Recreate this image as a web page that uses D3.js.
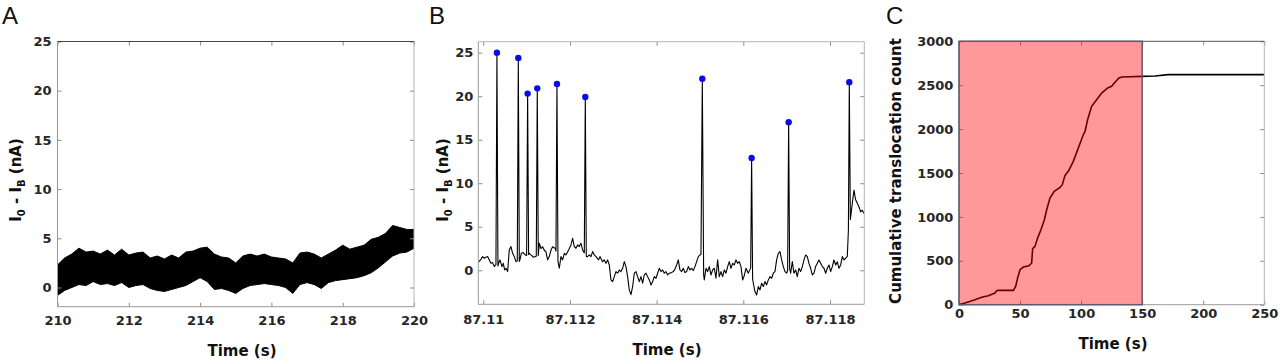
<!DOCTYPE html>
<html><head><meta charset="utf-8">
<script src="https://cdn.jsdelivr.net/npm/d3@7"></script>
<style>
html,body{margin:0;padding:0;background:#fff;}
svg{display:block;}
</style></head>
<body>
<svg id="chart" width="1280" height="364"></svg>
<script>
// ---------- DATA ----------
const panelLetters = ["A", "B", "C"];

// Panel A: noise band envelope (nA) vs time (s)
const timeA = [210.0,210.2,210.4,210.6,210.8,211.0,211.2,211.4,211.6,211.8,212.0,212.2,212.4,212.6,212.8,213.0,213.2,213.4,213.6,213.8,214.0,214.2,214.4,214.6,214.8,215.0,215.2,215.4,215.6,215.8,216.0,216.2,216.4,216.6,216.8,217.0,217.2,217.4,217.6,217.8,218.0,218.2,218.4,218.6,218.8,219.0,219.2,219.4,219.6,219.8,220.0];
const upperA = [2.3,3.0,3.4,4.0,3.6,3.7,3.4,3.8,3.3,3.9,3.3,3.5,3.6,3.0,3.2,2.9,3.3,3.0,3.6,3.7,4.0,4.1,3.4,3.1,3.0,2.5,3.2,3.4,3.2,3.4,3.1,3.0,2.9,2.5,3.5,3.6,3.4,3.0,3.4,3.8,4.3,3.9,4.1,4.3,4.9,5.1,5.5,6.3,6.1,5.9,5.9];
const lowerA = [-0.8,-0.3,0.0,0.3,0.2,0.6,0.3,0.4,0.2,0.5,0.0,0.2,0.3,-0.1,-0.3,-0.4,-0.2,0.0,0.2,0.6,1.0,0.6,-0.2,-0.1,-0.3,-0.6,-0.1,0.2,0.3,0.4,0.3,0.2,0.0,-0.6,0.3,0.5,0.3,-0.1,0.5,0.7,0.8,0.9,1.0,1.2,1.5,2.0,2.6,3.2,3.5,3.6,4.0];

// Panel B: trace, time offset from 87.11 s in microseconds, current in nA
const baseTimeB = 87.11;
const offsetB_us = [-115,-54,-15,23,62,100,138,177,215,254,277,292,315,338,354,385,431,462,492,523,562,600,638,677,715,754,785,808,831,846,877,923,969,1000,1023,1046,1062,1100,1160,1223,1246,1269,1292,1331,1369,1408,1446,1485,1523,1562,1600,1662,1677,1700,1723,1754,1792,1831,1869,1908,1969,2023,2062,2100,2138,2177,2215,2254,2292,2331,2354,2377,2408,2446,2485,2523,2562,2600,2662,2692,2754,2792,2831,2869,2908,2946,2985,3023,3062,3100,3139,3177,3215,3254,3292,3331,3369,3408,3446,3485,3523,3562,3600,3639,3677,3715,3754,3792,3831,3869,3908,3946,3985,4023,4062,4100,4138,4177,4215,4254,4292,4331,4385,4420,4462,4500,4538,4577,4615,4654,4692,4731,4769,4808,4846,4885,4923,4962,5000,5023,5054,5085,5100,5139,5177,5215,5254,5292,5331,5369,5408,5446,5485,5523,5562,5600,5639,5677,5715,5754,5792,5831,5869,5908,5946,5985,6015,6062,6115,6154,6170,6192,6215,6231,6269,6308,6346,6385,6423,6462,6500,6538,6577,6615,6654,6692,6731,6769,6808,6846,6885,6923,6962,7000,7023,7046,7069,7092,7131,7169,7208,7246,7285,7323,7362,7400,7438,7477,7515,7554,7592,7631,7669,7708,7746,7785,7823,7862,7900,7938,7977,8015,8054,8092,8131,8169,8208,8246,8285,8323,8362,8400,8425,8446,8470,8515,8554,8592,8631,8669,8708,8746,8792];
const currentB = [0.9,1.26,1.57,1.38,1.49,1.57,1.19,0.8,0.88,0.42,0.61,0.6,25.0,0.5,0.8,1.19,0.42,0.8,0.04,0.23,-0.15,2.34,2.72,1.95,1.57,0.99,1.1,24.4,1.0,1.19,1.95,2.03,1.76,1.7,20.3,1.8,1.95,1.76,1.5,1.6,20.9,1.7,3.1,2.5,2.7,2.3,2.1,1.2,1.57,2.3,2.7,2.5,2.2,21.4,1.0,0.23,1.57,1.19,1.95,1.76,2.34,2.91,3.67,2.72,2.53,2.91,2.72,3.1,2.34,2.0,19.9,1.6,1.57,1.76,1.57,2.15,1.76,1.57,1.19,1.57,0.99,1.19,0.8,1.19,0.61,-1.11,-1.3,-0.73,-0.15,-0.34,0.04,-0.15,0.23,0.99,0.42,-0.73,-2.26,-2.8,-1.87,-0.34,-0.15,-0.73,-1.3,-0.73,-1.49,-0.54,-0.34,-0.73,-1.11,-1.68,-1.3,-0.73,-0.92,-0.34,0.23,-0.15,0.04,-0.34,-0.15,-0.54,-0.34,-0.3,-0.15,0.1,0.61,1.19,0.04,-0.15,0.23,-0.27,-0.15,0.42,0.04,0.23,-0.04,0.42,0.99,1.57,1.76,1.8,22.0,-0.5,-1.11,0.23,-0.15,0.42,-0.54,0.04,0.23,-0.92,1.19,-0.73,-0.15,-0.73,0.04,-0.34,0.42,0.99,0.23,0.8,0.61,1.19,0.8,0.99,0.42,-1.11,-0.73,0.23,-0.34,0.1,0.3,12.9,-1.0,-1.49,-2.45,-2.83,-1.87,-2.26,-1.49,-1.87,-1.3,-1.68,-1.11,-0.73,-0.92,-0.34,-0.15,1.19,1.95,2.15,1.19,0.42,-0.15,-0.34,0.0,17.0,0.2,-0.34,0.99,-0.34,0.04,-0.73,0.23,-0.15,0.42,1.19,1.76,1.57,0.8,0.23,-0.54,-0.34,0.42,0.8,1.19,0.8,0.42,0.23,-0.34,0.23,0.61,-0.15,0.42,1.19,0.61,0.99,0.23,0.61,1.57,1.19,1.38,1.6,4.6,21.6,5.8,7.7,9.2,8.1,7.7,7.3,6.7,6.9,6.5];
// Detected peaks (blue markers)
const peakB_us = [315,808,1023,1246,1700,2354,5054,6192,7046,8446];
const peakB = [25.0,24.4,20.3,20.9,21.4,19.9,22.0,12.9,17.0,21.6];

// Panel C: cumulative translocation count vs time (s)
const timeC = [0,4.9,13.1,18.6,24,29.5,30.8,32,44.5,46.4,48,50,52.7,57.3,59.5,60.3,62.2,64.4,67.1,69.9,71.8,74.5,78,82.7,84.6,86.8,89.5,93.6,97.7,101.8,103.2,105.3,108.6,112.7,116.8,121.7,125,127.2,131,133.2,149.6,160.5,171.4,250];
const countC = [0,19,57,84,103,133,160,163,163,209,304,399,429,444,475,638,664,759,854,968,1082,1215,1291,1336,1367,1473,1519,1633,1784,1936,1974,2107,2259,2335,2411,2468,2487,2525,2582,2593,2600,2605,2620,2620];
const shadeC = [0, 150];

// Ticks
const ticksAx = [210,212,214,216,218,220];
const ticksAy = [0,5,10,15,20,25];
const ticksBx = [87.11,87.112,87.114,87.116,87.118];
const ticksBy = [0,5,10,15,20,25];
const ticksCx = [0,50,100,150,200,250];
const ticksCy = [0,500,1000,1500,2000,2500,3000];

// Labels
const xTitle = "Time (s)";
const yTitleC = "Cumulative translocation count";

// ---------- DRAW ----------
const svg = d3.select("#chart");
const tickFont = "'DejaVu Sans', sans-serif";
const labFont = "'DejaVu Sans', sans-serif";
const txtColor = "#262626";
const plain = d => String(d);

function panel(cfg) {
  const g = svg.append("g");
  const x = d3.scaleLinear().domain(cfg.xd).range([cfg.l, cfg.r]);
  const y = d3.scaleLinear().domain(cfg.yd).range([cfg.b, cfg.t]);
  const clipId = "clip" + cfg.id;
  svg.append("clipPath").attr("id", clipId).append("rect")
    .attr("x", cfg.l).attr("y", cfg.t).attr("width", cfg.r - cfg.l).attr("height", cfg.b - cfg.t);
  const plot = g.append("g").attr("clip-path", `url(#${clipId})`);

  // axes (inward ticks on all four sides)
  const ax = [
    d3.axisBottom(x).tickValues(cfg.tx).tickSize(-4).tickPadding(cfg.padX).tickFormat(plain),
    d3.axisTop(x).tickValues(cfg.tx).tickSize(-4).tickFormat(""),
    d3.axisLeft(y).tickValues(cfg.ty).tickSize(-4).tickPadding(cfg.padY).tickFormat(plain),
    d3.axisRight(y).tickValues(cfg.ty).tickSize(-4).tickFormat("")
  ];
  const pos = [`translate(0,${cfg.b})`, `translate(0,${cfg.t})`, `translate(${cfg.l},0)`, `translate(${cfg.r},0)`];
  ax.forEach((a, i) => {
    const ag = g.append("g").attr("transform", pos[i]).call(a);
    ag.select(".domain").remove();
    ag.selectAll(".tick line").attr("stroke", "#8a8a8a").attr("stroke-width", 1);
    ag.selectAll(".tick text").attr("fill", txtColor).attr("font-family", tickFont)
      .attr("font-weight", "bold").attr("font-size", 13);
  });
  // box
  g.append("line").attr("x1", cfg.l).attr("x2", cfg.r).attr("y1", cfg.b).attr("y2", cfg.b).attr("stroke", "#9a9a9a");
  g.append("line").attr("x1", cfg.l).attr("x2", cfg.l).attr("y1", cfg.t).attr("y2", cfg.b).attr("stroke", "#9a9a9a");
  g.append("line").attr("x1", cfg.r).attr("x2", cfg.r).attr("y1", cfg.t).attr("y2", cfg.b).attr("stroke", "#b5b5b5");
  g.append("line").attr("x1", cfg.l).attr("x2", cfg.r).attr("y1", cfg.t).attr("y2", cfg.t).attr("stroke", cfg.topColor || "#b5b5b5");

  // x title
  g.append("text").attr("x", cfg.xtX).attr("y", cfg.xtY).attr("text-anchor", "middle")
    .attr("font-family", labFont).attr("font-weight", "bold").attr("font-size", 15).attr("fill", "#111")
    .text(xTitle);
  // panel letter
  g.append("text").attr("x", cfg.letX).attr("y", 24).attr("font-family", "'Liberation Sans', Arial, sans-serif")
    .attr("font-size", 24).attr("fill", "#111").text(cfg.letter);
  return {g, plot, x, y};
}

function currentTitle(g, cx, cy) {
  const t = g.append("text").attr("transform", `translate(${cx},${cy}) rotate(-90)`)
    .attr("text-anchor", "middle").attr("font-family", labFont).attr("font-weight", "bold")
    .attr("font-size", 15).attr("fill", "#111");
  t.append("tspan").text("I");
  t.append("tspan").attr("font-size", 10).attr("dy", 4).text("0");
  t.append("tspan").attr("dy", -4).text(" - I");
  t.append("tspan").attr("font-size", 10).attr("dy", 4).text("B");
  t.append("tspan").attr("dy", -4).text(" (nA)");
}

// Panel A
const A = panel({id: "A", letter: panelLetters[0], letX: 2, xd: [210, 220], yd: [-1.95, 25],
  l: 57.5, r: 414, t: 41.5, b: 306.7, tx: ticksAx, ty: ticksAy, padX: 9.5, padY: 6,
  xtX: 242, xtY: 356, topColor: "#444"});
const areaA = d3.area().x((d, i) => A.x(timeA[i])).y0((d, i) => A.y(lowerA[i])).y1((d, i) => A.y(upperA[i]));
A.plot.append("path").datum(timeA).attr("d", areaA).attr("fill", "#000").attr("stroke", "#000").attr("stroke-width", 1);
currentTitle(A.g, 21, 180);

// Panel B
const timeB = offsetB_us.map(u => baseTimeB + u * 1e-6);
const B = panel({id: "B", letter: panelLetters[1], letX: 429, xd: [baseTimeB - 115e-6, baseTimeB + 8792e-6], yd: [-3.91, 26.26],
  l: 478.3, r: 864.3, t: 41.7, b: 304.3, tx: ticksBx, ty: ticksBy, padX: 10.5, padY: 5,
  xtX: 667, xtY: 355});
const lineB = d3.line().x((d, i) => B.x(timeB[i])).y((d, i) => B.y(currentB[i]));
B.plot.append("path").datum(currentB).attr("d", lineB).attr("fill", "none").attr("stroke", "#000").attr("stroke-width", 1.1).attr("stroke-linejoin", "round");
B.plot.selectAll("circle.pk").data(peakB).join("circle").attr("class", "pk")
  .attr("cx", (d, i) => B.x(baseTimeB + peakB_us[i] * 1e-6)).attr("cy", d => B.y(d)).attr("r", 3.2).attr("fill", "#0a0aee");
currentTitle(B.g, 448, 180);

// Panel C
const C = panel({id: "C", letter: panelLetters[2], letX: 886, xd: [0, 250], yd: [0, 3000],
  l: 959, r: 1264.3, t: 41.3, b: 304.7, tx: ticksCx, ty: ticksCy, padX: 4, padY: 5.7,
  xtX: 1113, xtY: 349, topColor: "#555"});
const lineC = d3.line().x((d, i) => C.x(timeC[i])).y((d, i) => C.y(countC[i]));
C.plot.append("path").datum(countC).attr("d", lineC).attr("fill", "none").attr("stroke", "#000").attr("stroke-width", 1.6);
C.g.append("rect").attr("x", C.x(shadeC[0])).attr("y", C.y(3000)).attr("width", C.x(shadeC[1]) - C.x(shadeC[0]))
  .attr("height", C.y(0) - C.y(3000)).attr("fill", "red").attr("fill-opacity", 0.4)
  .attr("stroke", "#5e5b6e").attr("stroke-width", 1.5);
C.g.append("text").attr("transform", `translate(901,171) rotate(-90)`).attr("text-anchor", "middle")
  .attr("font-family", labFont).attr("font-weight", "bold").attr("font-size", 15).attr("fill", "#111").text(yTitleC);
</script>
</body></html>
